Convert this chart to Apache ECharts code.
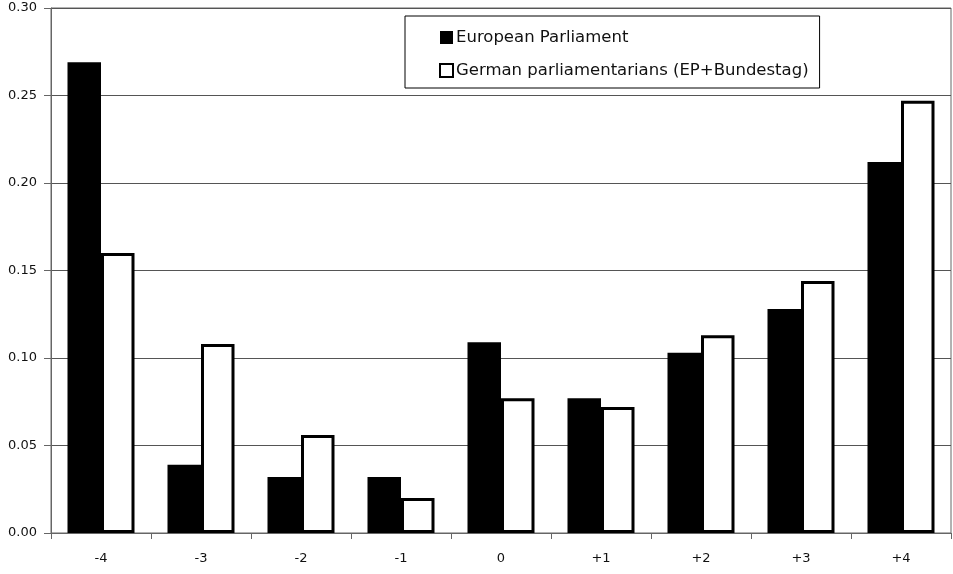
<!DOCTYPE html>
<html>
<head>
<meta charset="utf-8">
<script src="https://cdn.jsdelivr.net/npm/echarts@6/dist/echarts.min.js"></script>
<style>
html,body{margin:0;padding:0;background:#fff;}
#chart{width:953px;height:574px;}
</style>
</head>
<body>
<div id="chart"></div>
<script>
const categories = ['-4', '-3', '-2', '-1', '0', '+1', '+2', '+3', '+4'];
const europeanParliament = [0.269, 0.039, 0.032, 0.032, 0.109, 0.077, 0.103, 0.128, 0.212];
const germanParliamentarians = [0.160, 0.108, 0.056, 0.020, 0.077, 0.072, 0.113, 0.144, 0.247];
const seriesNames = ['European Parliament', 'German parliamentarians (EP+Bundestag)'];

const chart = echarts.init(document.getElementById('chart'));
const font = 'DejaVu Sans, sans-serif';
chart.setOption({
  animation: false,
  backgroundColor: '#fff',
  grid: {
    left: 51, right: 2, top: 8, bottom: 41,
    show: true, borderColor: '#666', borderWidth: 1, backgroundColor: 'transparent'
  },
  legend: {
    orient: 'vertical',
    left: 405, top: 16,
    padding: [13, 11, 9, 34],
    itemGap: 16,
    itemWidth: 13, itemHeight: 13,
    icon: 'rect',
    backgroundColor: '#fff',
    borderColor: '#000',
    borderWidth: 1,
    textStyle: { fontFamily: font, fontSize: 16.5, color: '#111', padding: [0, 0, 0, -2] },
    data: seriesNames
  },
  xAxis: {
    type: 'category',
    data: categories,
    axisLine: { lineStyle: { color: '#666', width: 1 } },
    axisTick: { show: true, length: 6, inside: false, lineStyle: { color: '#666' } },
    axisLabel: { fontFamily: font, fontSize: 13, color: '#111', margin: 19 }
  },
  yAxis: {
    type: 'value',
    min: 0, max: 0.30, interval: 0.05,
    axisLine: { show: true, lineStyle: { color: '#666', width: 1 } },
    axisTick: { show: true, length: 7, lineStyle: { color: '#666' } },
    axisLabel: { fontFamily: font, fontSize: 13, color: '#111', margin: 14,
      formatter: v => v.toFixed(2) },
    splitLine: { show: true, lineStyle: { color: '#555', width: 1 } }
  },
  series: [
    {
      name: seriesNames[0], type: 'bar', data: europeanParliament,
      barGap: '0%', barCategoryGap: '33%',
      itemStyle: { color: '#000', borderColor: '#000', borderWidth: 0 }
    },
    {
      name: seriesNames[1], type: 'bar', data: germanParliamentarians,
      barGap: '0%', barCategoryGap: '33%',
      itemStyle: { color: '#fff', borderColor: '#000', borderWidth: 3 }
    }
  ]
});
</script>
</body>
</html>
